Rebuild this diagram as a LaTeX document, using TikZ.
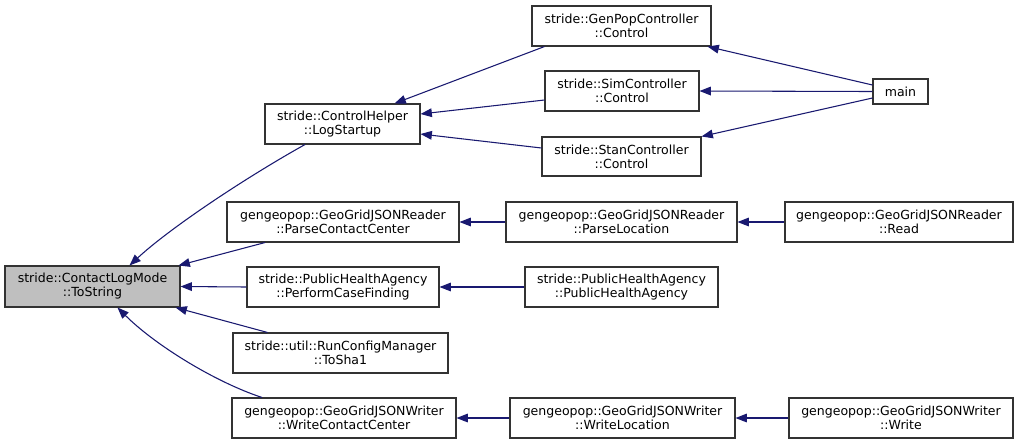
\documentclass[tikz,border=0pt]{standalone}
\usepackage{fontspec}
\setmainfont{DejaVu Sans}
\usetikzlibrary{arrows.meta,calc}
\definecolor{edgeblue}{HTML}{191970}
\definecolor{nodegray}{HTML}{BFBFBF}
\definecolor{frame}{HTML}{333333}
\begin{document}
\begin{tikzpicture}[x=0.75pt,y=-0.75pt,
  fn/.style 2 args={draw=frame,line width=0.8pt,fill=white,inner sep=0pt,
    align=center,font=\fontsize{9.4pt}{10.5pt}\selectfont,
    minimum width=#1*0.75pt,minimum height=#2*0.75pt},
  edge/.style={draw=edgeblue,line width=0.8pt,
    {Triangle[length=8.5pt,width=6.5pt,fill=edgeblue]}-}]
\useasboundingbox[fill=white] (0,0) rectangle (1021,444);

% callee of all edges
\node[fn={175}{41},fill=nodegray] (ts) at (92.5,286.5) {stride::ContactLogMode\\::ToString};

% direct callers
\node[fn={155}{40}] (ls)  at (342.5,124) {stride::ControlHelper\\::LogStartup};
\node[fn={232}{40}] (pcc) at (343,222)   {gengeopop::GeoGridJSONReader\\::ParseContactCenter};
\node[fn={192}{40}] (pcf) at (343,287)   {stride::PublicHealthAgency\\::PerformCaseFinding};
\node[fn={215}{40}] (sha) at (340.5,353) {stride::util::RunConfigManager\\::ToSha1};
\node[fn={224}{40}] (wcc) at (344,418)   {gengeopop::GeoGridJSONWriter\\::WriteContactCenter};

% second level
\node[fn={179}{40}] (gp)  at (621.5,26)   {stride::GenPopController\\::Control};
\node[fn={154}{40}] (sc)  at (622,91)     {stride::SimController\\::Control};
\node[fn={159}{39}] (stc) at (621.5,156.5){stride::StanController\\::Control};
\node[fn={231}{40}] (pl)  at (621.5,222)  {gengeopop::GeoGridJSONReader\\::ParseLocation};
\node[fn={193}{40}] (pha) at (621.5,287)  {stride::PublicHealthAgency\\::PublicHealthAgency};
\node[fn={225}{40}] (wl)  at (622.5,418)  {gengeopop::GeoGridJSONWriter\\::WriteLocation};

% third level
\node[fn={55}{25}]  (mn)  at (900.5,91.5) {main};
\node[fn={228}{40}] (rd)  at (899,222)    {gengeopop::GeoGridJSONReader\\::Read};
\node[fn={224}{40}] (wr)  at (901,418)    {gengeopop::GeoGridJSONWriter\\::Write};

% edges into ToString
\draw[edge] ($(ts.north)+(37,0)$) .. controls (170,228) and (245,178) .. ($(ls.south)+(-37.5,0)$);
\draw[edge] ($(ts.north east)+(-2,0)$) -- ($(pcc.south)+(-78,0)$);
\draw[edge] (ts.east) -- (pcf.west);
\draw[edge] ($(ts.south east)+(-5,0)$) -- ($(sha.north)+(-73,0)$);
\draw[edge] ($(ts.south)+(25,0)$) .. controls (155,345) and (215,382) .. ($(wcc.north)+(-82,0)$);

% edges into LogStartup
\draw[edge] ($(ls.north)+(52,0)$) -- ($(gp.south)+(-77,0)$);
\draw[edge] ($(ls.east)+(0,-10)$) -- ($(sc.west)+(0,9)$);
\draw[edge] ($(ls.east)+(0,10)$) -- ($(stc.west)+(0,-8.5)$);

% edges from main
\draw[edge] ($(gp.south east)+(-4,0)$) -- ($(mn.west)+(0,-6.5)$);
\draw[edge] (sc.east) -- (mn.west);
\draw[edge] (stc.north east) -- ($(mn.west)+(0,6.5)$);

% horizontal chains
\draw[edge] (pcc.east) -- (pl.west);
\draw[edge] (pl.east) -- (rd.west);
\draw[edge] (pcf.east) -- (pha.west);
\draw[edge] (wcc.east) -- (wl.west);
\draw[edge] (wl.east) -- (wr.west);
\end{tikzpicture}
\end{document}
